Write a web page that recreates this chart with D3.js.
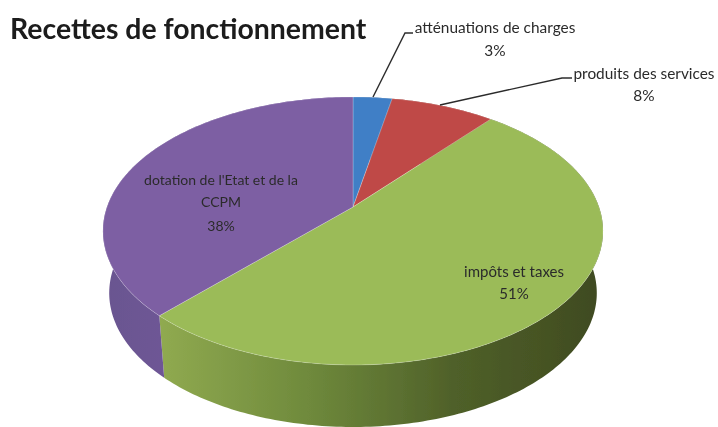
<!DOCTYPE html>
<html>
<head>
<meta charset="utf-8">
<script src="https://cdn.jsdelivr.net/npm/d3@7"></script>
<style>
  html, body { margin: 0; padding: 0; background: #fff; }
  svg { display: block; }
  text { font-family: Lato, "Open Sans", sans-serif; fill: #2b2b2b; }
</style>
</head>
<body>
<div id="chart"></div>
<script>
// --- Data ---
const categories = ["atténuations de charges", "produits des services", "impôts et taxes", "dotation de l'Etat et de la CCPM"];
const values = [3, 8, 51, 38];
const topColors = ["#3f7fc6", "#bf4a47", "#9bbb59", "#7d5fa3"];
const sideStops = [
  ["#2f5f95", "#2f5f95"],
  ["#8c3533", "#8c3533"],
  ["#90aa50", "#6f8a3c", "#4f6029", "#3f4a20"],
  ["#6a5590", "#7a5ea6"]
];

// --- Dimensions ---
const width = 718, height = 427;
const apex = { x: 353, y: 207 };
const tilt = 0.179;      // perspective: the far rim is closer to the apex
const radiusX = 246, radiusY = 129.7;
const depth = 62;
const bottomShrink = 0.975;

const svg = d3.select("#chart").append("svg")
  .attr("width", width)
  .attr("height", height);

const defs = svg.append("defs");
defs.append("filter").attr("id", "soft")
  .append("feGaussianBlur").attr("stdDeviation", 0.5);

const chart = svg.append("g").attr("filter", "url(#soft)");

// angle -> point on the rim, through the perspective
function rim(angle, dy, shrink) {
  const ux = Math.sin(angle), uy = -Math.cos(angle);
  const w = 1 - tilt * uy;
  return [
    apex.x + shrink * radiusX * ux / w,
    apex.y + dy + radiusY * uy / w
  ];
}

function arcAngles(d) {
  const n = Math.max(8, Math.ceil((d.endAngle - d.startAngle) * 60));
  return d3.range(n + 1).map(i => d.startAngle + (d.endAngle - d.startAngle) * i / n);
}

const pie = d3.pie().sort(null).value(d => d);
const slices = pie(values);
const line = d3.line();

// Side wall gradients
slices.forEach((d, i) => {
  const xs = arcAngles(d).map(a => rim(a, 0, 1)[0]);
  const grad = defs.append("linearGradient")
    .attr("id", `side-${i}`)
    .attr("gradientUnits", "userSpaceOnUse")
    .attr("x1", d3.min(xs)).attr("x2", d3.max(xs))
    .attr("y1", 0).attr("y2", 0);
  sideStops[i].forEach((c, j) => {
    grad.append("stop")
      .attr("offset", j / (sideStops[i].length - 1))
      .attr("stop-color", c);
  });
});

// Side walls first, the top face covers what is behind
chart.selectAll("path.side")
  .data(slices)
  .join("path")
  .attr("class", "side")
  .attr("fill", (d, i) => `url(#side-${i})`)
  .attr("d", d => {
    const angles = arcAngles(d);
    const upper = angles.map(a => rim(a, 0, 1));
    const lower = angles.slice().reverse().map(a => rim(a, depth, bottomShrink));
    return line(upper.concat(lower)) + "Z";
  });

// Top faces
chart.selectAll("path.top")
  .data(slices)
  .join("path")
  .attr("class", "top")
  .attr("fill", (d, i) => topColors[i])
  .attr("stroke", "#ffffff")
  .attr("stroke-opacity", 0.22)
  .attr("stroke-width", 1)
  .attr("d", d => line([[apex.x, apex.y]].concat(arcAngles(d).map(a => rim(a, 0, 1)))) + "Z");

// Leader lines
const leaders = [
  [[373, 97], [405, 33], [413, 33]],
  [[440, 105], [562, 78], [572, 78]]
];
chart.selectAll("path.leader")
  .data(leaders)
  .join("path")
  .attr("class", "leader")
  .attr("fill", "none")
  .attr("stroke", "#2b2b2b")
  .attr("stroke-width", 1.4)
  .attr("d", line);

// Labels
const pctLabels = values.map(v => `${v}%`);
const labelLines = [
  [categories[0], pctLabels[0]],
  [categories[1], pctLabels[1]],
  [categories[2], pctLabels[2]],
  ["dotation de l'Etat et de la", "CCPM", pctLabels[3]]
];
const labelX = [495, 644, 514, 221];
const labelY = [[33, 56], [79, 101], [277, 299], [185, 207, 231]];
const labelSize = [15.4, 15.4, 15, 14];

labelLines.forEach((lines, i) => {
  lines.forEach((t, j) => {
    chart.append("text")
      .attr("x", labelX[i])
      .attr("y", labelY[i][j])
      .attr("text-anchor", "middle")
      .attr("font-size", labelSize[i])
      .text(t);
  });
});

chart.append("text")
  .attr("x", 10)
  .attr("y", 39)
  .attr("font-size", 28.4)
  .attr("font-weight", 700)
  .style("fill", "#1a1a1a")
  .text("Recettes de fonctionnement");
</script>
</body>
</html>
